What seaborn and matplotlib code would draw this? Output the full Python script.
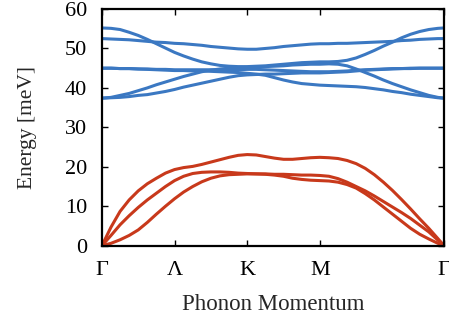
import matplotlib
matplotlib.use('Agg')
import numpy as np
import pandas as pd
import seaborn as sns
from matplotlib import pyplot as plt

# momentum path positions (Gamma - Lambda - K - M - Gamma)
q = [0, 0.125, 0.25, 0.375, 0.5, 0.625, 0.75, 0.875, 1.0, 1.125,
     1.25, 1.375, 1.5, 1.625, 1.75, 1.875, 2.0, 2.125, 2.25, 2.375,
     2.5, 2.625, 2.75, 2.875, 3.0, 3.125, 3.25, 3.375, 3.5, 3.625,
     3.75, 3.875, 4.0, 4.125, 4.25, 4.375, 4.5, 4.625, 4.71]
tick_pos = [0, 1, 2, 3, 4.71]
tick_labels = ['Γ', 'Λ', 'K', 'M', 'Γ']

# acoustic branches [meV]
ac_top = [0, 4.7, 8.7, 11.6, 13.9, 15.7, 17.1, 18.4, 19.3, 19.8,
          20.1, 20.6, 21.2, 21.8, 22.4, 22.9, 23.1, 23.0, 22.6, 22.2,
          21.9, 21.9, 22.1, 22.3, 22.4, 22.3, 22.1, 21.6, 20.8, 19.6,
          18.0, 16.1, 14.0, 11.7, 9.3, 6.8, 4.4, 1.8, 0]
ac_mid = [0, 2.6, 5.3, 7.6, 9.7, 11.6, 13.3, 15.0, 16.5, 17.6,
          18.3, 18.6, 18.7, 18.7, 18.6, 18.4, 18.3, 18.2, 18.2, 18.1,
          18.1, 18.0, 17.9, 17.9, 17.8, 17.6, 17.0, 16.1, 15.0, 13.9,
          12.6, 11.2, 9.8, 8.4, 6.9, 5.2, 3.5, 1.4, 0]
ac_low = [0, 0.6, 1.5, 2.6, 4.0, 5.9, 8.0, 10.0, 11.9, 13.6,
          15.0, 16.2, 17.1, 17.7, 18.0, 18.1, 18.2, 18.2, 18.1, 17.9,
          17.6, 17.1, 16.8, 16.6, 16.5, 16.4, 16.1, 15.5, 14.6, 13.2,
          11.6, 9.8, 8.0, 6.2, 4.4, 2.9, 1.7, 0.6, 0]

# optical branches [meV]
op_1 = [52.5, 52.4, 52.3, 52.2, 52.0, 51.8, 51.6, 51.5, 51.3, 51.2,
        51.0, 50.8, 50.5, 50.3, 50.1, 49.9, 49.8, 49.8, 50.0, 50.2,
        50.5, 50.7, 50.9, 51.1, 51.2, 51.2, 51.3, 51.3, 51.4, 51.5,
        51.6, 51.7, 51.8, 52.0, 52.1, 52.3, 52.4, 52.5, 52.5]
op_2 = [55.2, 55.1, 54.8, 54.1, 53.3, 52.3, 51.2, 50.1, 49.0, 48.1,
        47.3, 46.6, 46.1, 45.7, 45.5, 45.4, 45.4, 45.5, 45.6, 45.8,
        46.0, 46.2, 46.4, 46.5, 46.6, 46.6, 46.7, 47.0, 47.6, 48.5,
        49.5, 50.6, 51.6, 52.7, 53.6, 54.3, 54.8, 55.1, 55.2]
op_3 = [45.0, 45.0, 44.9, 44.9, 44.8, 44.8, 44.7, 44.7, 44.6, 44.6,
        44.6, 44.6, 44.6, 44.6, 44.6, 44.6, 44.7, 44.7, 44.6, 44.5,
        44.4, 44.3, 44.2, 44.1, 44.1, 44.1, 44.2, 44.3, 44.5, 44.6,
        44.7, 44.8, 44.9, 44.9, 45.0, 45.0, 45.0, 45.0, 45.0]
op_4 = [45.0, 45.0, 44.9, 44.9, 44.8, 44.7, 44.6, 44.5, 44.4, 44.4,
        44.3, 44.3, 44.2, 44.1, 44.0, 43.9, 43.7, 43.5, 43.2, 42.6,
        42.0, 41.5, 41.1, 40.9, 40.7, 40.6, 40.5, 40.4, 40.3, 40.1,
        39.8, 39.5, 39.1, 38.8, 38.4, 38.1, 37.8, 37.5, 37.4]
op_5 = [37.4, 37.6, 38.1, 38.6, 39.3, 40.0, 40.8, 41.5, 42.2, 42.9,
        43.5, 44.1, 44.5, 44.8, 45.0, 45.1, 45.2, 45.3, 45.4, 45.5,
        45.6, 45.8, 45.9, 46.0, 46.0, 46.1, 46.0, 45.6, 44.8, 43.9,
        43.0, 42.0, 41.1, 40.3, 39.5, 38.8, 38.1, 37.6, 37.4]
op_6 = [37.4, 37.5, 37.6, 37.8, 38.1, 38.3, 38.7, 39.1, 39.6, 40.2,
        40.7, 41.2, 41.7, 42.2, 42.7, 43.1, 43.3, 43.4, 43.5, 43.5,
        43.6, 43.7, 43.8, 43.8, 43.8, 43.9, 44.0, 44.1, 44.3, 44.5,
        44.6, 44.7, 44.8, 44.9, 44.9, 45.0, 45.0, 45.0, 45.0]

red = '#c8391b'
blue = '#3b78c2'

sns.set_style('ticks')
plt.rcParams['font.family'] = ['Liberation Serif', 'DejaVu Serif']

fig = plt.figure(figsize=(4.49, 3.22), dpi=100)
ax = fig.add_axes([0.227, 0.237, 0.762, 0.735])

for br in [op_1, op_2, op_3, op_4, op_5, op_6]:
    sns.lineplot(x=q, y=br, color=blue, lw=2.2, ax=ax, sort=False, estimator=None)
for br in [ac_top, ac_mid, ac_low]:
    sns.lineplot(x=q, y=br, color=red, lw=2.2, ax=ax, sort=False, estimator=None)

ax.set_xlim(0, 4.71)
ax.set_ylim(0, 60)
ax.set_xticks(tick_pos)
ax.set_xticklabels(tick_labels)
ax.set_yticks(range(0, 61, 10))
ax.tick_params(direction='in', length=4, width=1, top=True, right=True,
               labelsize=16, colors='black')
ax.tick_params(axis='x', pad=11)
ax.tick_params(axis='y', pad=10.5)
for s in ax.spines.values():
    s.set_linewidth(1.6)
    s.set_color('black')

ax.set_xlabel('Phonon Momentum', fontsize=16.5, labelpad=10)
ax.set_ylabel('Energy [meV]', fontsize=15.5, labelpad=20)

fig.savefig('out.png', dpi=100)
